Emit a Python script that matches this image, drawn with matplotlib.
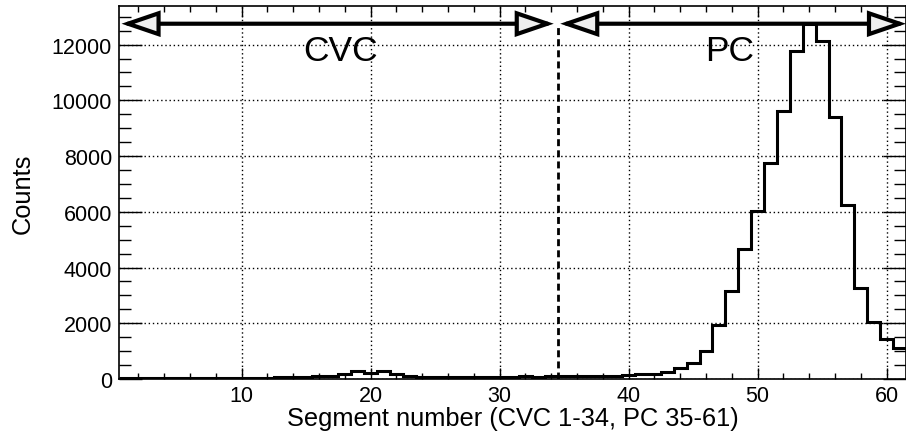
import numpy as np
import matplotlib
matplotlib.use("Agg")
import matplotlib.pyplot as plt
from matplotlib.patches import FancyArrowPatch
from matplotlib.ticker import MultipleLocator

# counts per segment (1..61)
segments = np.arange(1, 62)
counts = [
    20, 20, 20, 20, 25, 25, 25, 25, 30, 30,
    40, 45, 55, 65, 80, 100, 120, 165, 270, 220,
    280, 190, 120, 90, 85, 85, 80, 55, 75, 80,
    60, 110, 75, 110, 115, 120, 120, 125, 120, 130,
    175, 185, 262, 384, 564, 1016, 1949, 3148, 4667, 6031,
    7744, 9632, 11786, 12750, 12123, 9417, 6247, 3267, 2057, 1436,
    1102,
]
cvc_segments = (1, 34)
pc_segments = (35, 61)
region_labels = ["CVC", "PC"]
region_label_x = [17.7, 47.8]

plt.rcParams["font.family"] = ["Liberation Sans", "DejaVu Sans"]

fig = plt.figure(figsize=(9.06, 4.35), dpi=100)
ax = fig.add_axes([0.1313, 0.1264, 0.8687, 0.8576])

edges = np.append(segments - 0.5, segments[-1] + 0.5)
ax.stairs(counts, edges, baseline=None, color="black", linewidth=2.2, zorder=3)

ymax = 1.05 * max(counts)
ax.set_xlim(0.5, 61.5)
ax.set_ylim(0, ymax)

# boundary between CVC and PC
split = cvc_segments[1] + 0.5
arrow_y = max(counts)
ax.plot([split, split], [0, arrow_y], color="black", linewidth=2.0,
        linestyle=(0, (2.5, 1.5)), zorder=2)

# double-headed arrows marking the two regions
for (lo, hi), pad_hi in zip((cvc_segments, pc_segments), (0.2, 0.5)):
    arr = FancyArrowPatch((lo - 0.3, arrow_y), (hi + pad_hi, arrow_y),
                          arrowstyle="<|-|>,head_length=2.2,head_width=0.75",
                          mutation_scale=10, shrinkA=0, shrinkB=0,
                          facecolor="#eeeeee", edgecolor="black",
                          linewidth=3.0, joinstyle="miter", zorder=4,
                          clip_on=False)
    ax.add_patch(arr)

for lab, xpos in zip(region_labels, region_label_x):
    ax.text(xpos, 11800, lab, fontsize=25.5, ha="center", va="center", zorder=5)

ax.xaxis.set_major_locator(MultipleLocator(10))
ax.xaxis.set_minor_locator(MultipleLocator(2))
ax.yaxis.set_major_locator(MultipleLocator(2000))
ax.yaxis.set_minor_locator(MultipleLocator(500))

ax.tick_params(which="both", direction="in", top=True, right=True,
               labelsize=15.5, width=1.0)
ax.tick_params(axis="x", which="major", length=8, pad=4)
ax.tick_params(axis="x", which="minor", length=4)
ax.tick_params(axis="y", which="major", length=16.5, pad=5)
ax.tick_params(axis="y", which="minor", length=8.5)

ax.grid(True, which="major", color="black", linestyle=(0, (1, 2)), linewidth=1.0)
for s in ax.spines.values():
    s.set_linewidth(1.2)

ax.set_xlabel("Segment number (CVC 1-34, PC 35-61)", fontsize=18.3, labelpad=0)
ax.set_ylabel("Counts", fontsize=18.3)
ax.yaxis.set_label_coords(-0.107, 0.5)

fig.savefig("out.png", dpi=100)
